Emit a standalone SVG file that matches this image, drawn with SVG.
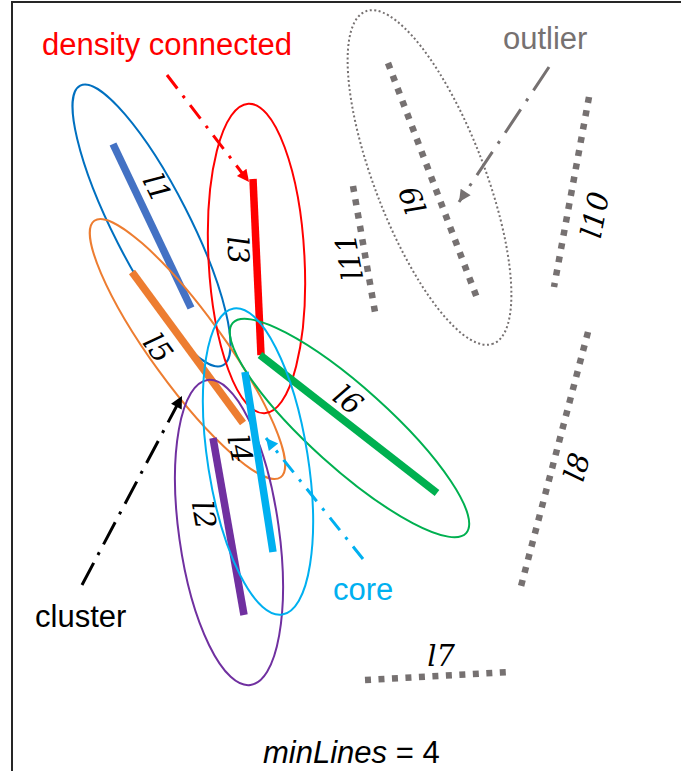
<svg xmlns="http://www.w3.org/2000/svg" width="681" height="771" viewBox="0 0 681 771">
<style>
  .ann { font-family: "Liberation Sans", Arial, sans-serif; font-size: 31px; }
  .lab { font-family: "DejaVu Serif", "Liberation Serif", serif; font-style: italic; font-size: 29px; fill: #000; text-anchor: middle; dominant-baseline: central; }
  .ell { fill: none; stroke-width: 2; }
  .seg { stroke-width: 7.5; stroke-linecap: butt; }
  .gray { stroke: #767171; stroke-width: 6.5; stroke-dasharray: 6 7.5; fill: none; }
  .arr { fill: none; stroke-width: 3; }
</style>
<defs>
  <marker id="mRed" viewBox="0 0 10 10" refX="10" refY="5" markerWidth="5" markerHeight="4" orient="auto"><path d="M0,0 L10,5 L0,10 z" fill="#FF0000"/></marker>
  <marker id="mGray" viewBox="0 0 10 10" refX="10" refY="5" markerWidth="5" markerHeight="4" orient="auto"><path d="M0,0 L10,5 L0,10 z" fill="#767171"/></marker>
  <marker id="mBlack" viewBox="0 0 10 10" refX="10" refY="5" markerWidth="5" markerHeight="4" orient="auto"><path d="M0,0 L10,5 L0,10 z" fill="#000000"/></marker>
  <marker id="mCyan" viewBox="0 0 10 10" refX="10" refY="5" markerWidth="5" markerHeight="4" orient="auto"><path d="M0,0 L10,5 L0,10 z" fill="#00B0F0"/></marker>
</defs>
<rect width="681" height="771" fill="#ffffff"/>
<path d="M681,2 H12 V771" fill="none" stroke="#262626" stroke-width="2"/>

<g id="l9">
  <ellipse class="ell" cx="429.5" cy="177.5" rx="178" ry="55" transform="rotate(69 429.5 177.5)" stroke="#767171" stroke-width="1.5" stroke-dasharray="2 2.5"/>
  <line class="gray" x1="388" y1="63" x2="477" y2="298"/>
  <text class="lab" transform="translate(413 200) rotate(-111)">l9</text>
</g>
<g id="l10">
  <line class="gray" x1="589" y1="97" x2="554" y2="287"/>
  <text class="lab" transform="translate(595 215) rotate(-79)">l10</text>
</g>
<g id="l11">
  <line class="gray" x1="353" y1="186" x2="375" y2="312"/>
  <text class="lab" transform="translate(349 257) rotate(-101)">l11</text>
</g>
<g id="l8">
  <line class="gray" x1="588" y1="332" x2="520" y2="590"/>
  <text class="lab" transform="translate(577 467) rotate(-75)">l8</text>
</g>
<g id="l7">
  <line class="gray" x1="365" y1="680" x2="510" y2="672"/>
  <text class="lab" transform="translate(441 656)">l7</text>
</g>

<g id="l1">
  <line class="seg" x1="113" y1="144" x2="191" y2="308" stroke="#4472C4"/>
  <ellipse class="ell" cx="151.5" cy="225.5" rx="157" ry="38" transform="rotate(63 151.5 225.5)" stroke="#0070C0"/>
  <text class="lab" transform="translate(157 188) rotate(64)">l1</text>
</g>
<g id="l5">
  <line class="seg" x1="132" y1="272" x2="243" y2="423" stroke="#ED7D31"/>
  <ellipse class="ell" cx="187.5" cy="349" rx="158.5" ry="36" transform="rotate(54 187.5 349)" stroke="#ED7D31"/>
  <text class="lab" transform="translate(158 348) rotate(54)">l5</text>
</g>
<g id="l3">
  <line class="seg" x1="253" y1="179" x2="261" y2="355" stroke="#FF0000"/>
  <ellipse class="ell" cx="256.5" cy="258.5" rx="155" ry="48" transform="rotate(87 256.5 258.5)" stroke="#FF0000"/>
  <text class="lab" transform="translate(238 250) rotate(87)">l3</text>
</g>
<g id="l6">
  <line class="seg" x1="260" y1="355" x2="437" y2="493" stroke="#00B050"/>
  <ellipse class="ell" cx="349.5" cy="428" rx="157" ry="40" transform="rotate(42 349.5 428)" stroke="#00B050"/>
  <text class="lab" transform="translate(348 400) rotate(38)">l6</text>
</g>
<g id="l2">
  <line class="seg" x1="213" y1="438" x2="244" y2="615" stroke="#7030A0"/>
  <ellipse class="ell" cx="229" cy="532.5" rx="154" ry="50" transform="rotate(82 229 532.5)" stroke="#7030A0"/>
  <text class="lab" transform="translate(204 515) rotate(80)">l2</text>
</g>
<g id="l4">
  <line class="seg" x1="245" y1="372" x2="273" y2="552" stroke="#00B0F0"/>
  <ellipse class="ell" cx="258" cy="461.5" rx="155" ry="50" transform="rotate(81 258 461.5)" stroke="#00B0F0"/>
  <text class="lab" transform="translate(240 449) rotate(78)">l4</text>
</g>

<g id="connectors">
  <line class="arr" x1="167" y1="75" x2="249" y2="182" stroke="#FF0000" stroke-dasharray="17 9 3 9" marker-end="url(#mRed)"/>
  <line class="arr" x1="549" y1="67" x2="459" y2="202" stroke="#767171" stroke-dasharray="28 10 3 10" marker-end="url(#mGray)"/>
  <line class="arr" x1="82" y1="585" x2="182" y2="396" stroke="#000000" stroke-width="3.5" stroke-dasharray="25 9 3 9" marker-end="url(#mBlack)"/>
  <line class="arr" x1="363" y1="559" x2="266" y2="438" stroke="#00B0F0" stroke-dasharray="16 9 3 9" marker-end="url(#mCyan)"/>
</g>

<g id="annotations">
  <text class="ann" x="42" y="55" fill="#FF0000">density connected</text>
  <text class="ann" x="503" y="49" fill="#767171">outlier</text>
  <text class="ann" x="35" y="627" fill="#000000">cluster</text>
  <text class="ann" x="333" y="600" fill="#00B0F0">core</text>
  <text class="ann" x="263" y="763" font-size="30" fill="#000000"><tspan font-style="italic">minLines</tspan> = 4</text>
</g>
</svg>
